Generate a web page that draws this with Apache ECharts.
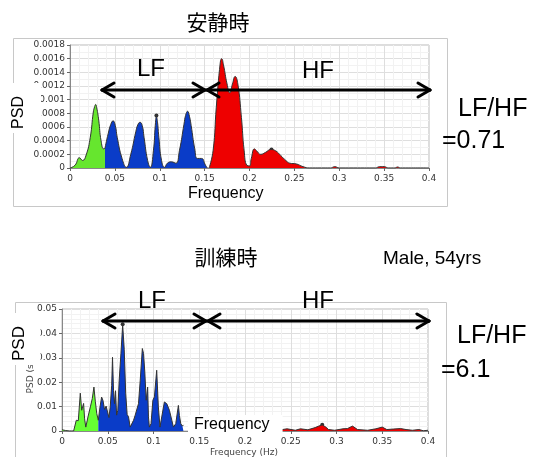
<!DOCTYPE html>
<html><head><meta charset="utf-8">
<script src="https://cdn.jsdelivr.net/npm/echarts@6/dist/echarts.min.js"></script>
<style>html,body{margin:0;padding:0;background:#fff}#c{width:534px;height:457px}</style>
</head><body><div id="c"></div>
<script>
// ---- Rest (安静時) spectrum ----
const topFreq = [0,0.0056,0.0105,0.014,0.018,0.0226,0.026,0.0275,0.0286,0.0298,0.032,0.0346,0.0376,0.039,
  0.0425,0.0455,0.048,0.0505,0.0526,0.058,0.0628,0.0677,0.0733,0.0755,0.078,0.0805,0.0825,0.0865,0.0895,0.093,0.095,0.0963,0.0976,0.099,0.102,0.1054,0.1085,0.113,0.118,0.122,0.127,0.1288,0.131,0.1332,0.135,0.139,0.142,0.1465,0.151,0.153,
  0.155,0.1595,0.163,0.1675,0.169,0.171,0.175,0.178,0.181,0.184,0.187,0.191,0.194,0.197,0.2,0.202,0.2055,0.208,0.2125,0.218,0.2237,0.2293,0.235,0.2405,0.245,0.252,0.2596,0.267,0.28,0.29,0.295,0.3,0.34,0.345,0.35,0.355,0.362,0.365,0.368,0.4];
const topPsd = [0,0.00004,0.00015,0.00011,0.00019,0.00045,0.00082,0.0009,0.00093,0.00088,0.0007,0.0004,0.00028,0.00029,
  0.0005,0.00064,0.00069,0.00062,0.00045,0.00014,0.00001,0.0002,0.00053,0.00063,0.00067,0.00062,0.00045,0.00011,0.00001,0.00026,0.00062,0.00075,0.00066,0.00045,0.00011,0.00001,0.00007,0.00009,0.00007,0.00026,0.00064,0.00077,0.00083,0.00075,0.00062,0.00028,0.00014,0.00014,0.00004,0,
  0,0.00026,0.00089,0.00155,0.0016,0.00151,0.00123,0.0011,0.00123,0.00134,0.00123,0.00074,0.00026,0.00004,0.00003,0.00014,0.00028,0.00025,0.0002,0.00023,0.00027,0.00025,0.00018,0.00011,0.00007,0.00006,0.00002,0,0,0,0.00002,0,0,0.00002,0.00002,0,0,0.000015,0,0];
const topDotsFreq = [0.0963,0.2245];
const topDotsPsd = [0.00077,0.00027];

// ---- Training (訓練時) spectrum ----
const botFreq = [0,0.004,0.008,0.0127,0.0156,0.0178,0.02,0.0215,0.0236,0.0247,0.026,0.0284,0.031,0.0331,0.0349,0.0364,0.038,0.0397,
  0.0415,0.0433,0.0448,0.0465,0.0482,0.0498,0.0513,0.0527,0.0543,0.0552,0.0563,0.0573,0.0585,0.0597,0.061,0.0625,0.0644,0.0663,0.068,0.0696,0.0712,0.0727,0.0745,0.0764,0.0782,0.08,0.0818,0.0836,0.0855,0.0878,0.0891,0.0905,0.092,0.0936,0.0945,0.0955,0.0973,0.0993,0.101,0.1035,0.1053,0.1071,0.109,0.1119,0.1145,0.1174,0.12,0.1218,0.1243,0.1272,0.1283,0.1298,0.1316,0.1327,
  0.2364,0.241,0.246,0.255,0.2606,0.2687,0.2767,0.2805,0.2844,0.288,0.2913,0.298,0.307,0.312,0.3175,0.323,0.334,0.343,0.35,0.355,0.362,0.37,0.376,0.383,0.39,0.395,0.4];
const botPsd = [0.0005,0.0002,0,0,0.0044,0.0042,0.0155,0.0085,0.0113,0.005,0.0016,0.0058,0.0099,0.0133,0.018,0.0122,0.0071,0.0044,
  0.0098,0.0139,0.0125,0.0088,0.0102,0.0078,0.0055,0.0099,0.0187,0.0302,0.0167,0.0112,0.0165,0.0065,0.0085,0.0208,0.0318,0.0435,0.0335,0.0155,0.0068,0.0058,0.0016,0.0009,0.0044,0.0065,0.0058,0.0112,0.0208,0.0338,0.0318,0.0242,0.0126,0.018,0.0058,0.0016,0.003,0.0126,0.014,0.0249,0.0099,0.0016,0.0058,0.0119,0.0112,0.0085,0.0044,0.0016,0.003,0.0105,0.0064,0.003,0.002,0.0025,
  0.001,0.0006,0.0009,0.0003,0.0009,0.0005,0.0014,0.002,0.0025,0.0017,0.0006,0.0003,0.0009,0.001,0.002,0.0006,0.0003,0.0009,0.0016,0.0006,0.0008,0.001,0.0006,0.0003,0.0006,0.0001,0.0003];
const botDotsFreq = [0.0663,0.2844];
const botDotsPsd = [0.0437,0.0026];

// band limits (Hz)
const topBands = {green:[0,0.039], blue:[0.039,0.153], red:[0.155,0.4]};
const botBands = {green:[0,0.0397], blue:[0.0397,0.1327], red:[0.2364,0.4]};

const xTicks = {min:0, max:0.4, interval:0.05};
const topY = {min:0, max:0.0018, interval:0.0002};
const botY = {min:0, max:0.05, interval:0.01};

function seg(fr, ps, band){
  return fr.map((f,i)=>[f,ps[i]]).filter(p=>p[0]>=band[0]-1e-9 && p[0]<=band[1]+1e-9);
}
function pts(fr, ps){ return fr.map((f,i)=>[f,ps[i]]); }

const chart = echarts.init(document.getElementById('c'), null, {renderer:'canvas'});
const lblFont = {fontFamily:'DejaVu Sans', fontSize:9, color:'#333'};
function xAxis(gi){
  return {type:'value', gridIndex:gi, min:xTicks.min, max:xTicks.max, interval:xTicks.interval,
    axisLine:{show:true, onZero:false, lineStyle:{color:'#888'}}, axisTick:{show:true, length:3, lineStyle:{color:'#666'}},
    axisLabel:Object.assign({margin:6}, lblFont),
    splitLine:{show:true, lineStyle:{color:'#dedede'}},
    minorTick:{show:false, splitNumber:5}, minorSplitLine:{show:true, lineStyle:{color:'#f2f2f2'}}};
}
function yAxis(gi, c, ms){
  return {type:'value', gridIndex:gi, min:c.min, max:c.max, interval:c.interval,
    axisLine:{show:true, lineStyle:{color:'#888'}}, axisTick:{show:true, length:3, lineStyle:{color:'#666'}},
    axisLabel:Object.assign({margin:5}, lblFont),
    splitLine:{show:true, lineStyle:{color:'#dedede'}},
    minorTick:{show:false, splitNumber:ms}, minorSplitLine:{show:true, lineStyle:{color:'#f2f2f2'}}};
}
function area(gi, data, color, smooth){
  return {type:'line', xAxisIndex:gi, yAxisIndex:gi, data:data, smooth:smooth, symbol:'none', silent:true,
    lineStyle:{color:'#333', width:1}, areaStyle:{color:color, opacity:1}, animation:false};
}
function seg2(x1,y1,x2,y2){
  return {type:'line', z:100, shape:{x1:x1,y1:y1,x2:x2,y2:y2}, style:{stroke:'#000', lineWidth:3, lineDash:null, lineCap:'round'}};
}
function arrow(x1,x2,y){
  const h=7, l=12;
  return [
    seg2(x1,y,x2,y),
    seg2(x1,y,x1+l,y-h), seg2(x1,y,x1+l,y+h),
    seg2(x2,y,x2-l,y-h), seg2(x2,y,x2-l,y+h)
  ];
}
function txt(s,x,y,size,opts){
  return Object.assign({type:'text', x:x, y:y, z:100, style:Object.assign({text:s, fill:'#000', font:size+'px "Liberation Sans", Arial, sans-serif', textAlign:'left', textVerticalAlign:'middle'}, (opts&&opts.style)||{})}, (opts&&opts.el)||{});
}

const graphics = [
  {type:'rect', z:-10, shape:{x:13.5,y:38.5,width:434,height:168}, style:{fill:'none', stroke:'#c8c8c8', lineWidth:1}},
  {type:'rect', z:-10, shape:{x:15.5,y:302.5,width:431,height:170}, style:{fill:'none', stroke:'#c8c8c8', lineWidth:1}},
  txt('安静時',218,22,21,{style:{textAlign:'center', font:'21px "Noto Sans CJK JP"'}}),
  txt('訓練時',226,257,21,{style:{textAlign:'center', font:'21px "Noto Sans CJK JP"'}}),
  txt('Male, 54yrs',383,259,19),
  txt('LF',137,69,24), txt('HF',302,71,24),
  txt('LF',138,301,24), txt('HF',302,301,24),
  txt('LF/HF',458,109,25), txt('=0.71',442,141,25),
  txt('LF/HF',457,336,25), txt('=6.1',441,370,25),
  txt('Frequency',188,194,16),
  txt('Frequency',188,425,16,{style:{backgroundColor:'#fff', padding:[2,13,2,6]}}),
  txt('Frequency (Hz)',244,453,9,{style:{textAlign:'center', fill:'#444', font:'9px "DejaVu Sans"'}}),
  txt('PSD (s²/Hz)',31,368,9,{style:{textAlign:'center', fill:'#444', font:'9px "DejaVu Sans"'}, el:{rotation:Math.PI/2}}),
  txt('PSD',19,108,16,{style:{textAlign:'center', backgroundColor:'#fff', padding:[14,13,14,4]}, el:{rotation:Math.PI/2}}),
  txt('PSD',19,339,17,{style:{textAlign:'center', backgroundColor:'#fff', padding:[13,13,13,4]}, el:{rotation:Math.PI/2}})
].concat(arrow(102,205,90), arrow(207,430,90), arrow(103,206,321), arrow(208,429,321));

chart.setOption({
  animation:false,
  backgroundColor:'#fff',
  grid:[
    {left:70, right:105, top:45, bottom:289, show:true, borderColor:'#bbb', borderWidth:1},
    {left:62, right:106, top:309, bottom:26, show:true, borderColor:'#bbb', borderWidth:1}
  ],
  xAxis:[xAxis(0), xAxis(1)],
  yAxis:[yAxis(0, topY, 2), yAxis(1, botY, 5)],
  series:[
    area(0, seg(topFreq, topPsd, topBands.green), '#66E62E', 0.5),
    area(0, seg(topFreq, topPsd, topBands.blue), '#0A3CC8', 0.5),
    area(0, seg(topFreq, topPsd, topBands.red), '#EE0000', 0.5),
    area(1, seg(botFreq, botPsd, botBands.green), '#66FF33', false),
    area(1, seg(botFreq, botPsd, botBands.blue), '#0A3CC8', false),
    area(1, seg(botFreq, botPsd, botBands.red), '#EE0000', false),
    {type:'scatter', xAxisIndex:0, yAxisIndex:0, data:pts(topDotsFreq, topDotsPsd), symbolSize:4, itemStyle:{color:'#000'}, silent:true},
    {type:'scatter', xAxisIndex:1, yAxisIndex:1, data:pts(botDotsFreq, botDotsPsd), symbolSize:4, itemStyle:{color:'#000'}, silent:true}
  ],
  graphic:graphics
});
</script></body></html>
